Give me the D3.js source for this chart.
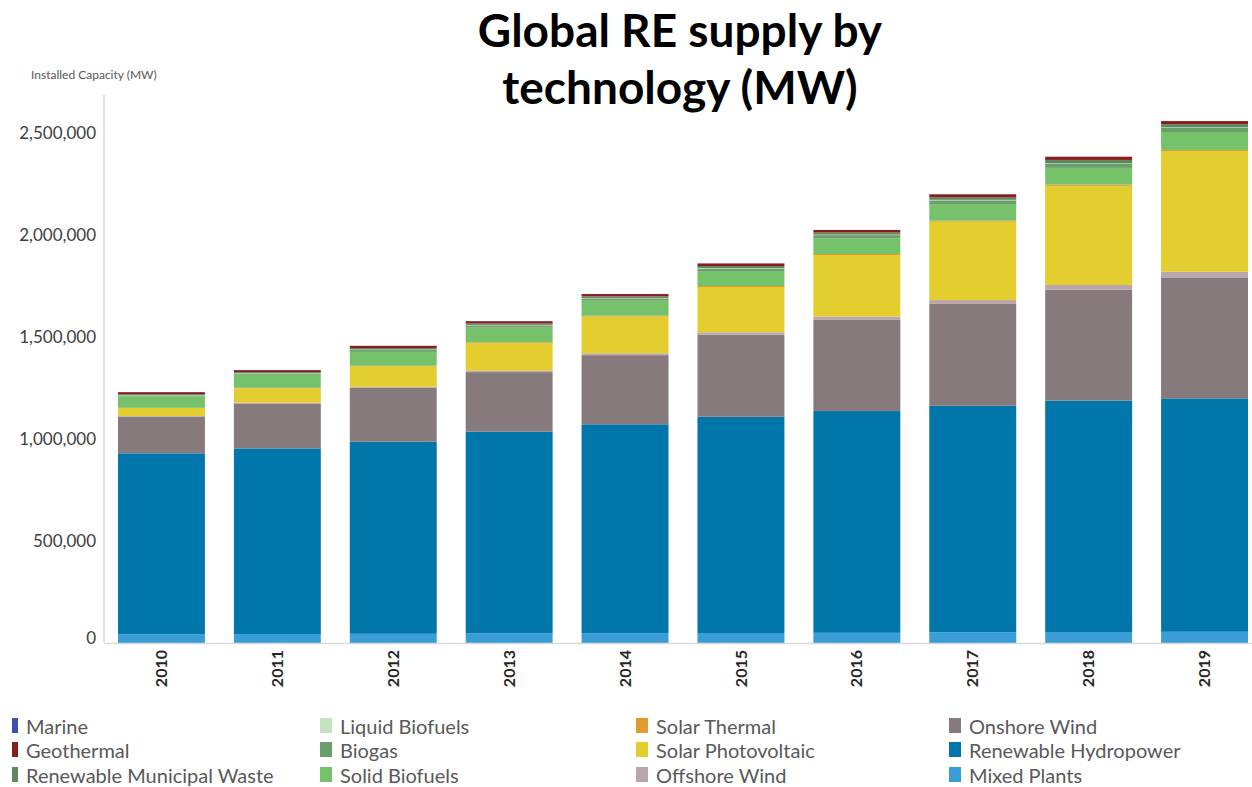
<!DOCTYPE html>
<html><head><meta charset="utf-8">
<script src="https://cdn.jsdelivr.net/npm/d3@7"></script>
<style>body{margin:0;background:#fff;} svg{display:block;}</style>
</head><body><svg id="c" width="1252" height="787"></svg>
<script>
const years = ["2010","2011","2012","2013","2014","2015","2016","2017","2018","2019"];
// values in MW, stack order bottom -> top
const mixedPlants   = [43000,44000,45000,47000,48000,49000,50000,52000,54000,55000];
const hydropower    = [887000,910000,942000,989000,1024000,1060000,1087000,1111000,1134000,1144000];
const onshoreWind   = [180000,220000,264000,292000,339000,402000,449000,499000,543000,593000];
const offshoreWind  = [3000,4000,5000,7000,9000,12000,14000,19000,24000,28000];
const solarPV       = [39000,71000,100000,135000,180000,222000,302000,384000,486000,591000];
const solarThermal  = [1000,2000,3000,4000,4000,5000,5000,5000,6000,6000];
const solidBiofuels = [55000,64000,68000,72000,74000,70000,77000,82000,82000,88000];
const biogas        = [6000,7000,10000,11000,11500,15500,15500,18000,19000,19500];
const liquidBiofuels= [1500,1500,2000,2000,2000,2500,2500,2500,3000,3000];
const municipalWaste= [4500,4500,7000,7500,8000,10000,10500,13000,17000,16000];
const geothermal    = [9500,9500,10500,11000,11000,12500,12000,14000,15500,15000];
const marine        = [500,500,500,500,500,500,500,500,500,500];
const yTicks = [0,500000,1000000,1500000,2000000,2500000];

const series = [
  {name:"Mixed Plants", values:mixedPlants, color:"#3a9ed6"},
  {name:"Renewable Hydropower", values:hydropower, color:"#0076ab"},
  {name:"Onshore Wind", values:onshoreWind, color:"#867a7d"},
  {name:"Offshore Wind", values:offshoreWind, color:"#bba6ad"},
  {name:"Solar Photovoltaic", values:solarPV, color:"#e3cd2f"},
  {name:"Solar Thermal", values:solarThermal, color:"#e09a2f"},
  {name:"Solid Biofuels", values:solidBiofuels, color:"#76c26a"},
  {name:"Biogas", values:biogas, color:"#6b9e6b"},
  {name:"Liquid Biofuels", values:liquidBiofuels, color:"#c4e3bf"},
  {name:"Renewable Municipal Waste", values:municipalWaste, color:"#5b8a5f"},
  {name:"Geothermal", values:geothermal, color:"#8c1c1c"},
  {name:"Marine", values:marine, color:"#3f4fb0"}
];
const legendGrid = [
  ["Marine","Geothermal","Renewable Municipal Waste"],
  ["Liquid Biofuels","Biogas","Solid Biofuels"],
  ["Solar Thermal","Solar Photovoltaic","Offshore Wind"],
  ["Onshore Wind","Renewable Hydropower","Mixed Plants"]
];

const rows = years.map((y,i)=>{const o={year:y}; series.forEach(s=>o[s.name]=s.values[i]); return o;});
const stack = d3.stack().keys(series.map(s=>s.name))(rows);

const svg = d3.select("#c");
const font = "Lato, 'Open Sans', sans-serif";
const x = d3.scaleBand().domain(years).range([103.5,1262.5]).paddingInner(0.25).paddingOuter(0.125);
const y = d3.scaleLinear().domain([0,2500000]).range([643,133]);

// title
svg.append("text").attr("x",680).attr("y",47).attr("text-anchor","middle")
  .attr("font-family",font).attr("font-weight","bold").attr("font-size",46).attr("fill","#000")
  .text("Global RE supply by");
svg.append("text").attr("x",680).attr("y",104).attr("text-anchor","middle")
  .attr("font-family",font).attr("font-weight","bold").attr("font-size",46).attr("fill","#000")
  .text("technology (MW)");

svg.append("text").attr("x",31).attr("y",79).attr("font-family",font).attr("font-size",12)
  .attr("fill","#595959").text("Installed Capacity (MW)");

// bars
svg.append("g").selectAll("g").data(stack).join("g")
  .attr("fill",(d,i)=>series[i].color)
  .selectAll("rect").data(d=>d).join("rect")
  .attr("x",d=>x(d.data.year)).attr("width",x.bandwidth())
  .attr("y",d=>y(d[1])).attr("height",d=>Math.max(0,y(d[0])-y(d[1])));

// y axis
const ya = svg.append("g").attr("transform","translate(104,0)")
  .call(d3.axisLeft(y).tickValues(yTicks).tickSize(0).tickPadding(8).tickFormat(d3.format(",")));
ya.select(".domain").attr("stroke","#d9d9d9").attr("stroke-width",1.5).attr("d","M0,95V643");
ya.selectAll("text").attr("font-family",font).attr("font-size",17).attr("fill","#404040");
ya.selectAll(".tick").filter(d=>d===0).select("text").attr("transform","translate(0,-5)");

// x axis
const xa = svg.append("g").attr("transform","translate(0,643)")
  .call(d3.axisBottom(x).tickSize(0));
xa.select(".domain").attr("stroke","#d9d9d9").attr("stroke-width",1.5);
xa.selectAll("text").attr("font-family",font).attr("font-weight","bold").attr("font-size",16)
  .attr("fill","#262626").attr("text-anchor","end").attr("transform","rotate(-90)")
  .attr("x",-7).attr("y",0).attr("dy","0.35em");

// legend
const colX = [12,320,636,949];
const rowY = [727,751,776];
const colorOf = Object.fromEntries(series.map(s=>[s.name,s.color]));
legendGrid.forEach((col,ci)=>col.forEach((name,ri)=>{
  const g = svg.append("g").attr("transform",`translate(${colX[ci]},${rowY[ri]})`);
  g.append("rect").attr("x",0).attr("y",-9).attr("width",ci===0?6:12).attr("height",15).attr("fill",colorOf[name]);
  g.append("text").attr("x",ci===0?14:20).attr("y",0).attr("dy","0.35em")
    .attr("font-family",font).attr("font-size",20).attr("fill","#595959").text(name);
}));
</script></body></html>
